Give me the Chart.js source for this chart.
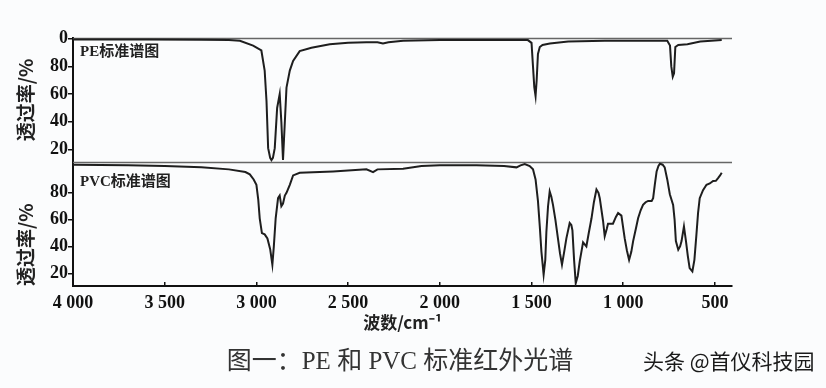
<!DOCTYPE html>
<html>
<head>
<meta charset="utf-8">
<script src="https://cdn.jsdelivr.net/npm/chart.js@4/dist/chart.umd.min.js"></script>
<style>
html, body { margin: 0; padding: 0; background: #fbfcfd; }
#wrap { position: relative; width: 826px; height: 388px; overflow: hidden; }
#chart { position: absolute; left: 0; top: 0; }
.panel { position: absolute; font-family: "Liberation Serif", "Noto Sans CJK SC", serif; font-weight: bold; font-size: 15px; color: #222; line-height: 1; white-space: nowrap; }
#caption { position: absolute; left: 0; width: 800px; top: 346px; text-align: center; font-family: "Liberation Serif", "Noto Sans CJK SC", serif; font-size: 25px; color: #333; line-height: 1.2; }
#mark { position: absolute; left: 643px; top: 348px; font-family: "Noto Sans CJK SC", sans-serif; font-size: 21px; color: #1a1a1a; line-height: 1.2; white-space: nowrap; }
</style>
</head>
<body>
<div id="wrap">
  <canvas id="chart" width="826" height="388"></canvas>
  <div class="panel" style="left:80px; top:44px;">PE标准谱图</div>
  <div class="panel" style="left:80px; top:174px;">PVC标准谱图</div>
  <div id="caption">图一：PE 和 PVC 标准红外光谱</div>
  <div id="mark">头条 @首仪科技园</div>
</div>
<script>
// eixo x (número de onda) e rótulos
const xTicks = [4000, 3500, 3000, 2500, 2000, 1500, 1000, 500];
const peYTicks = [20, 40, 60, 80, 100];
const peYTickLabels = ['20', '40', '60', '80', '0'];
const pvcYTicks = [20, 40, 60, 80];

// espectro PE (cm-1 / transmitância %)
const peWave = [4000, 3600, 3300, 3150, 3090, 3018, 2973, 2955, 2945, 2936, 2925, 2918, 2910, 2900, 2887,
  2873, 2864, 2855, 2845, 2836, 2818, 2800, 2764, 2700, 2600, 2500, 2400, 2340, 2310, 2280, 2200,
  2000, 1800, 1600, 1520, 1500, 1492, 1485, 1478, 1472, 1465, 1455, 1440, 1400, 1300, 1100, 900,
  760, 745, 738, 730, 723, 716, 700, 650, 580, 520, 463];
const peT = [99.5, 99.5, 99.3, 99, 98.5, 95, 91.5, 77, 55, 21, 14, 12.4, 14, 21, 50,
  60, 40, 12.4, 40, 64.7, 77, 84, 91, 93.5, 96, 97, 97.5, 97.5, 96.5, 97.5, 98.5,
  99, 99, 99, 99, 97, 80, 65, 58.6, 70, 89, 94, 95.5, 96.5, 98, 98.5, 98.5,
  98.5, 95, 80, 72.5, 75, 94, 95.5, 96, 98, 98.5, 99];

// espectro PVC
const pvcWave = [4000, 3700, 3500, 3300, 3150, 3060, 3036, 3015, 3000, 2990, 2982, 2970, 2955, 2940, 2925,
  2913, 2905, 2895, 2882, 2873, 2864, 2855, 2845, 2836, 2818, 2800, 2764, 2582, 2400, 2364, 2340,
  2200, 2100, 2000, 1800, 1650, 1582, 1560, 1537, 1510, 1492, 1478, 1465, 1455, 1446, 1434, 1425,
  1419, 1410, 1401, 1392, 1383, 1370, 1356, 1345, 1334, 1322, 1310, 1292, 1283, 1277, 1268, 1259,
  1248, 1237, 1219, 1201, 1188, 1173, 1160, 1146, 1135, 1128, 1110, 1101, 1090, 1083, 1070, 1056,
  1040, 1028, 1010, 992, 980, 968, 956, 946, 930, 919, 905, 892, 878, 864, 845, 837,
  828, 818, 808, 800, 785, 774, 760, 746, 728, 720, 713, 700, 690, 682, 675, 669,
  664, 658, 648, 638, 623, 612, 601, 592, 583, 565, 546, 528, 510, 495, 483, 472, 463];
const pvcT = [101, 100.5, 100, 99, 97.5, 95.5, 93.8, 90, 86, 75, 61, 50, 49, 46, 38,
  26.4, 40, 61, 76, 78, 70, 72, 78, 80, 86, 93, 95, 96, 97.5, 95.4, 97.5,
  98, 100, 100.5, 100.5, 100, 99, 100.5, 101.5, 100, 97.5, 90, 74, 55, 36, 19, 30,
  51, 70, 81, 77, 71, 60, 46, 35, 26.4, 36, 46, 57.5, 56, 52, 30, 12.6,
  18, 29, 43, 40, 50, 61, 73, 82.5, 80, 76, 59, 47.6, 53, 57, 57, 57,
  62, 65, 63, 46, 37, 30, 36, 44, 54, 61, 67, 71, 73, 74, 74, 76,
  86, 96, 100, 101.7, 101, 99, 90, 79, 71, 60, 44, 37.6, 40, 44, 50, 55,
  50, 44, 33, 23.8, 21.3, 30, 48.8, 65, 76, 82, 86, 87, 88.8, 89, 91, 93, 95];

const fmtWave = v => v >= 1000 ? Math.floor(v / 1000) + ' ' + String(v % 1000).padStart(3, '0') : String(v);

// linhas superiores de cada painel
const framePlugin = {
  id: 'frame',
  beforeDatasetsDraw(chart) {
    const { ctx, chartArea } = chart;
    ctx.save();
    ctx.strokeStyle = '#666';
    ctx.lineWidth = 1.5;
    ['yPE', 'yPVC'].forEach(id => {
      const top = Math.round(chart.scales[id].top) + 0.5;
      ctx.beginPath();
      ctx.moveTo(chartArea.left, top);
      ctx.lineTo(chartArea.right, top);
      ctx.stroke();
    });
    ctx.restore();
  }
};

const tickFont = { family: 'Liberation Serif', size: 18, weight: 'bold' };
const titleFont = { family: 'Noto Sans CJK SC', size: 19, weight: 'bold' };

function yAxis(min, max, ticks, labels, weight, align) {
  return {
    type: 'linear', position: 'left', stack: 'panels', stackWeight: 1, weight: weight,
    min: min, max: max,
    afterBuildTicks: s => { s.ticks = ticks.map(v => ({ value: v })); },
    afterFit: s => { s.width = 73; },
    ticks: { font: tickFont, color: '#111', padding: 0, autoSkip: false, callback: v => labels[ticks.indexOf(v)] },
    grid: { display: true, drawOnChartArea: false, drawTicks: true, tickLength: 5, color: '#111', lineWidth: 1.5 },
    border: { display: true, color: '#111', width: 2 },
    title: { display: true, text: '透过率/%', font: titleFont, color: '#222', align: align, padding: { top: 14, bottom: 0 } }
  };
}

const ctx = document.getElementById('chart').getContext('2d');
new Chart(ctx, {
  type: 'line',
  data: {
    datasets: [{
      label: 'PE',
      data: peWave.map((w, i) => ({ x: w, y: peT[i] })),
      xAxisID: 'x', yAxisID: 'yPE',
      borderColor: '#1e1e1e', borderWidth: 2, pointRadius: 0, tension: 0, fill: false
    }, {
      label: 'PVC',
      data: pvcWave.map((w, i) => ({ x: w, y: pvcT[i] })),
      xAxisID: 'x', yAxisID: 'yPVC',
      borderColor: '#1e1e1e', borderWidth: 2, pointRadius: 0, tension: 0, fill: false
    }]
  },
  options: {
    responsive: false,
    animation: false,
    layout: { padding: { top: 38, right: 94, left: 0, bottom: 52 } },
    plugins: { legend: { display: false }, tooltip: { enabled: false } },
    scales: {
      x: {
        type: 'linear', position: 'bottom', reverse: true, min: 407, max: 4000,
        afterBuildTicks: s => { s.ticks = xTicks.map(v => ({ value: v })); },
        afterFit: s => { s.height = 50; },
        ticks: { font: tickFont, color: '#111', padding: 11, maxRotation: 0, autoSkip: false, callback: v => fmtWave(v) },
        grid: { display: true, drawOnChartArea: false, drawTicks: true, tickLength: -4, color: '#111', lineWidth: 1.5 },
        border: { display: true, color: '#111', width: 2 },
        title: { display: true, text: '波数/cm⁻¹', font: { family: 'Noto Sans CJK SC', size: 17, weight: 'bold' }, color: '#222', padding: { top: 0, bottom: 3 } }
      },
      yPE: yAxis(11, 100.5, peYTicks, peYTickLabels, 2, 'center'),
      yPVC: yAxis(10.5, 103, pvcYTicks, pvcYTicks.map(String), 1, 'start')
    }
  },
  plugins: [framePlugin]
});
</script>
</body>
</html>
